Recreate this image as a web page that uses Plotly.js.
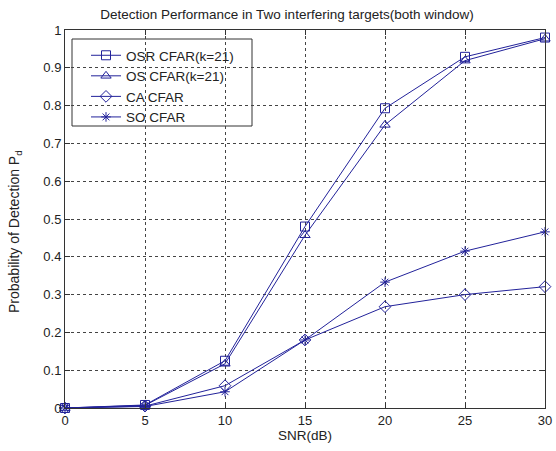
<!DOCTYPE html>
<html><head><meta charset="utf-8">
<script src="https://cdn.plot.ly/plotly-3.0.1.min.js"></script>
<style>html,body{margin:0;padding:0;background:#fff}#chart{width:556px;height:451px}</style>
</head><body><div id="chart"></div>
<script>
const snr = [0, 5, 10, 15, 20, 25, 30];
const osr = [0, 0.008, 0.125, 0.48, 0.793, 0.929, 0.98];
const os  = [0, 0.007, 0.117, 0.457, 0.749, 0.919, 0.977];
const ca  = [0, 0.005, 0.059, 0.18, 0.268, 0.30, 0.321];
const so  = [0, 0.004, 0.043, 0.18, 0.333, 0.415, 0.466];
const names = ['OSR CFAR(k=21)', 'OS CFAR(k=21)', 'CA CFAR', 'SO CFAR'];
const symbols = ['square-open', 'triangle-up-open', 'diamond-open', 'asterisk-open'];
const xTicks = [0, 5, 10, 15, 20, 25, 30];
const yTicks = [0, 0.1, 0.2, 0.3, 0.4, 0.5, 0.6, 0.7, 0.8, 0.9, 1];
const yTickText = ['0', '0.1', '0.2', '0.3', '0.4', '0.5', '0.6', '0.7', '0.8', '0.9', '1'];

const series = [osr, os, ca, so];
const lineColor = '#22229a';
const traces = series.map((ys, i) => ({
  x: snr, y: ys, name: names[i], type: 'scatter', mode: 'lines+markers',
  line: {color: lineColor, width: 1},
  marker: {symbol: symbols[i], size: i === 3 ? 8 : 9, color: lineColor, line: {color: lineColor, width: 1}},
  cliponaxis: false
}));

const L = 65, R = 545, T = 30, B = 408;
const W = 556, H = 451;
const px2x = p => (p - L) / (R - L);
const px2y = p => (B - p) / (B - T);
const FONT = 'Liberation Sans, Arial, sans-serif';

const axisCommon = {
  showline: true, linecolor: '#333', linewidth: 1, mirror: 'ticks',
  ticks: 'inside', ticklen: 5, tickcolor: '#333', tickwidth: 1,
  showgrid: true, gridcolor: '#444', griddash: 'dot', gridwidth: 1,
  zeroline: false, tickfont: {family: FONT, size: 13, color: '#222'}
};

const layout = {
  width: W, height: H,
  margin: {l: L, r: W - R, t: T, b: H - B},
  paper_bgcolor: '#fff', plot_bgcolor: '#fff',
  font: {family: FONT, size: 13, color: '#222'},
  title: {text: 'Detection Performance in Two interfering targets(both window)',
          x: 287 / W, xref: 'container', xanchor: 'center', y: 1 - 14 / H, yref: 'container', yanchor: 'middle',
          font: {size: 13.5, color: '#222'}},
  xaxis: Object.assign({}, axisCommon, {range: [0, 30], tickvals: xTicks, ticktext: xTicks.map(String),
          title: {text: 'SNR(dB)', standoff: 2, font: {size: 13.5, color: '#222'}}}),
  yaxis: Object.assign({}, axisCommon, {range: [0, 1], tickvals: yTicks, ticktext: yTickText}),
  showlegend: true,
  legend: {x: px2x(86), y: px2y(40), xanchor: 'left', yanchor: 'top', bgcolor: 'rgba(0,0,0,0)',
           borderwidth: 0, font: {size: 13.5, color: '#222'}, tracegroupgap: 0},
  shapes: [{type: 'rect', xref: 'paper', yref: 'paper', x0: px2x(72), x1: px2x(252), y0: px2y(126), y1: px2y(39),
            line: {color: '#333', width: 1}, fillcolor: '#fff', layer: 'below'}],
  annotations: [{text: 'Probability of Detection P<sub>d</sub>', xref: 'paper', yref: 'paper',
                 x: px2x(15), y: px2y(232), textangle: -90, showarrow: false, xanchor: 'center', yanchor: 'middle',
                 font: {size: 14, color: '#222'}}]
};

Plotly.newPlot('chart', traces, layout, {displayModeBar: false, staticPlot: true});
</script></body></html>
